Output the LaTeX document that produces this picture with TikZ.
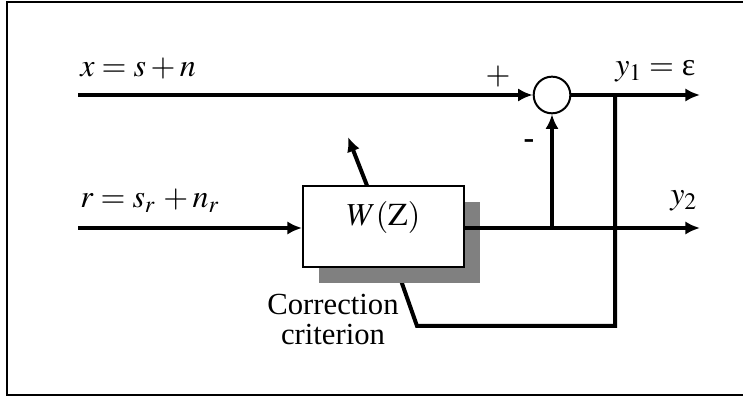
\documentclass[tikz,border=0pt]{standalone}
\usepackage{mathptmx}
\usepackage{fontspec}
\setmainfont{Liberation Serif}
\usetikzlibrary{arrows.meta,positioning,shadows}

\tikzset{AFsig/.style={line width=3pt},
         AFarr/.style={AFsig,-{Latex[length=11pt,width=10pt]}},
         AFlab/.style={font=\fontsize{24}{22.5}\selectfont,inner sep=0pt},
         AFsum/.style={circle,draw,line width=1.5pt,minimum size=27.5pt,inner sep=0pt},
         AFbox/.style={draw,fill=white,line width=1.5pt,minimum width=120.75pt,minimum height=60.75pt,
                       drop shadow={shadow xshift=12pt,shadow yshift=-12pt,fill=gray,opacity=1}}}

\begin{document}
\begin{tikzpicture}[x=0.75pt,y=-0.75pt]
    \useasboundingbox (0,0) rectangle (743,398);
    \draw[line width=1.1pt] (743,2) -- (7,2) -- (7,395) -- (743,395);
    % feedback path, drawn first so the shadow hides its end
    \coordinate (t1) at (615,95); \coordinate (t2) at (615,326);
    \coordinate (fb) at (417,326); \coordinate (crit) at (398,272);
    \draw[AFsig,line join=miter] (t1) -- (t2) -- (fb) -- (crit);
    \node[AFbox] (wz) at (383.5,227) {};
    \node[AFsum] (sum) at (552,95) {};
    \coordinate (xin) at (78,95);  \coordinate (y1out) at (700,95);
    \coordinate (rin) at (78,228); \coordinate (y2out) at (700,228);
    \coordinate (adj) at (348,137);
    \draw[AFarr] (xin) -- (sum); \draw[AFarr] (sum) -- (y1out);
    \draw[AFarr] (rin) -- (rin -| wz.west); \draw[AFarr] (wz.east |- rin) -- (y2out);
    \draw[AFarr] (sum |- rin) -- (sum);
    \draw[AFarr] ([xshift=-12.4pt]wz.north) -- (adj);
    % labels
    \node[AFlab,anchor=base west] at (80,77) {$x = s + n$};
    \node[AFlab,anchor=base west] at (80,208) {$r = s_r\, + n_r$};
    \node[AFlab,anchor=base west] at (615,76) {$y_1 = $ ε};
    \node[AFlab,anchor=base west] at (670,205) {$y_2$};
    \node[AFlab] at (498,77) {$+$};
    \node[AFlab] at (529,144) {\textbf{-}};
    \node[AFlab] at ([yshift=6.75pt]wz.center) {$W(\mathrm{Z})$};
    \node[AFlab,font=\fontsize{23}{22.5}\selectfont,align=center] at (333,320) {Correction\\criterion};
\end{tikzpicture}
\end{document}
